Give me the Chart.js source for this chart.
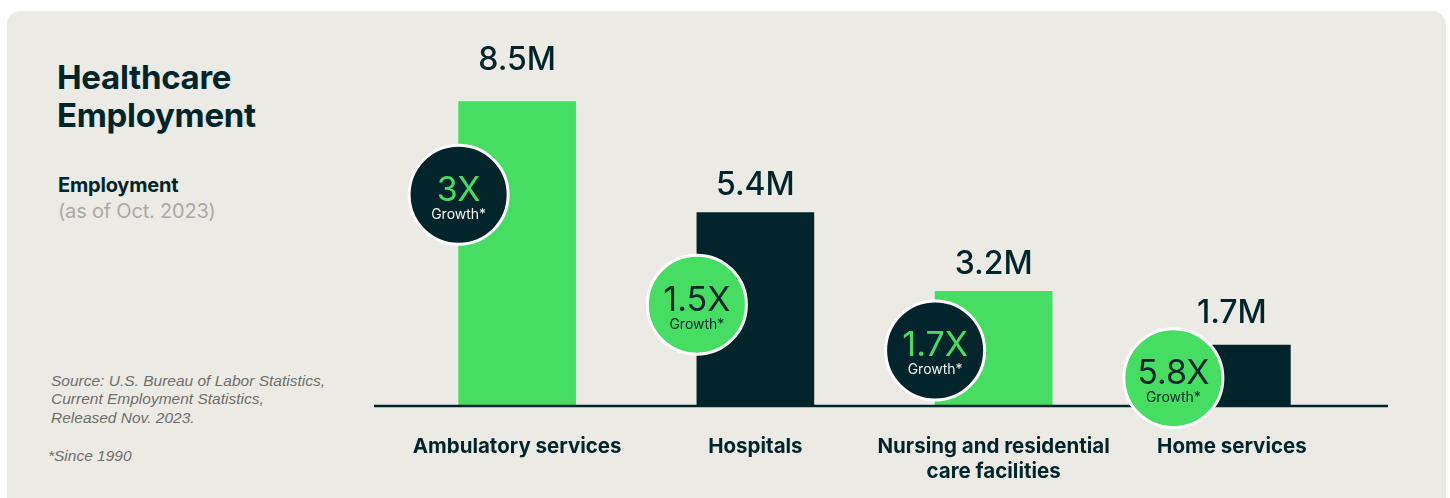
<!DOCTYPE html>
<html>
<head>
<meta charset="utf-8">
<script src="https://cdn.jsdelivr.net/npm/chart.js@4"></script>
<style>
  html, body { margin:0; padding:0; background:#ffffff; width:1450px; height:498px; overflow:hidden; }
  #card { position:absolute; left:7px; top:11px; width:1439px; height:520px; background:#ECEAE5; border-radius:14px; }
  #wrap { position:absolute; left:0; top:0; width:1450px; height:498px; }
  .t { position:absolute; white-space:nowrap; color:#01262A; font-family:Inter, "Noto Sans", sans-serif; }
  #title { left:57px; top:58px; font-size:33px; font-weight:700; line-height:38px; letter-spacing:-0.3px; }
  #sub1 { left:58px; top:173px; font-size:20px; font-weight:700; line-height:24px; letter-spacing:-0.2px; }
  #sub2 { left:58px; top:199px; font-size:20px; font-weight:400; color:#AAAAA6; line-height:24px; letter-spacing:-0.2px; }
  #src { left:51px; top:372px; font-family:"Liberation Sans", Arial, sans-serif; font-style:italic; font-size:15.5px; line-height:18.3px; color:#6F6F6D; }
  #since { left:48px; top:447px; font-family:"Liberation Sans", Arial, sans-serif; font-style:italic; font-size:15.5px; line-height:18px; color:#6F6F6D; }
</style>
</head>
<body>
<div id="card"></div>
<div class="t" id="title">Healthcare<br>Employment</div>
<div class="t" id="sub1">Employment</div>
<div class="t" id="sub2">(as of Oct. 2023)</div>
<div class="t" id="src">Source: U.S. Bureau of Labor Statistics,<br>Current Employment Statistics,<br>Released Nov. 2023.</div>
<div class="t" id="since">*Since 1990</div>
<div id="wrap"><canvas id="c" width="1450" height="498"></canvas></div>
<script>
// ---- data ----
const categories = [['Ambulatory services'], ['Hospitals'], ['Nursing and residential', 'care facilities'], ['Home services']];
const employmentMillions = [8.5, 5.4, 3.2, 1.7];
const valueLabels = ['8.5M', '5.4M', '3.2M', '1.7M'];
const growthLabels = ['3X', '1.5X', '1.7X', '5.8X'];
const yTicks = [0, 10];

// ---- style ----
const GREEN = '#46DD63';
const DARK = '#01252A';
const barColors = [GREEN, DARK, GREEN, DARK];
const FONT = 'Inter, "Noto Sans", sans-serif';

const annotate = {
  id: 'annotate',
  afterDatasetsDraw(chart, args, opts) {
    const ctx = chart.ctx;
    const meta = chart.getDatasetMeta(0);
    const area = chart.chartArea;
    const yBase = chart.scales.y.getPixelForValue(0);
    // baseline
    ctx.save();
    ctx.strokeStyle = DARK;
    ctx.lineWidth = 2.5;
    ctx.beginPath();
    ctx.moveTo(area.left - opts.lineExtL, yBase);
    ctx.lineTo(area.right + opts.lineExtR, yBase);
    ctx.stroke();
    meta.data.forEach((bar, i) => {
      const left = bar.x - bar.width / 2;
      // value label
      ctx.fillStyle = DARK;
      ctx.font = '500 32px ' + FONT;
      ctx.textAlign = 'center';
      ctx.textBaseline = 'alphabetic';
      ctx.fillText(valueLabels[i], bar.x, bar.y - opts.labelGap[i]);
      // badge
      const cx = left, cy = bar.y + opts.badgeDrop[i];
      const isDarkBar = barColors[i] === DARK;
      ctx.beginPath();
      ctx.arc(cx, cy, opts.radius, 0, Math.PI * 2);
      ctx.fillStyle = isDarkBar ? GREEN : DARK;
      ctx.fill();
      ctx.lineWidth = 3;
      ctx.strokeStyle = '#ffffff';
      ctx.stroke();
      ctx.fillStyle = isDarkBar ? DARK : GREEN;
      ctx.font = '400 34px ' + FONT;
      ctx.fillText(growthLabels[i], cx, cy + 6);
      ctx.fillStyle = isDarkBar ? DARK : '#F2F2EE';
      ctx.font = '400 14px ' + FONT;
      ctx.fillText('Growth*', cx, cy + 24);
    });
    ctx.restore();
  }
};

new Chart(document.getElementById('c'), {
  type: 'bar',
  data: {
    labels: categories,
    datasets: [{
      data: employmentMillions,
      backgroundColor: barColors,
      borderWidth: 0,
      barThickness: 117
    }]
  },
  options: {
    responsive: false,
    animation: false,
    layout: { padding: { left: 398, right: 99, top: 48, bottom: 0 } },
    plugins: {
      legend: { display: false },
      tooltip: { enabled: false },
      annotate: {
        lineExtL: 24, lineExtR: 37, radius: 49.5,
        labelGap: [32, 18, 17, 22],
        badgeDrop: [93, 92, 59, 33]
      }
    },
    scales: {
      x: {
        grid: { display: false, drawTicks: false },
        border: { display: false },
        afterFit(scale) { scale.height = 92; },
        ticks: {
          color: DARK,
          padding: 28,
          maxRotation: 0,
          minRotation: 0,
          autoSkip: false,
          font: { family: FONT, size: 20.5, weight: '700', lineHeight: 1.22 }
        }
      },
      y: {
        display: false,
        min: yTicks[0],
        max: yTicks[1]
      }
    }
  },
  plugins: [annotate]
});
</script>
</body>
</html>
